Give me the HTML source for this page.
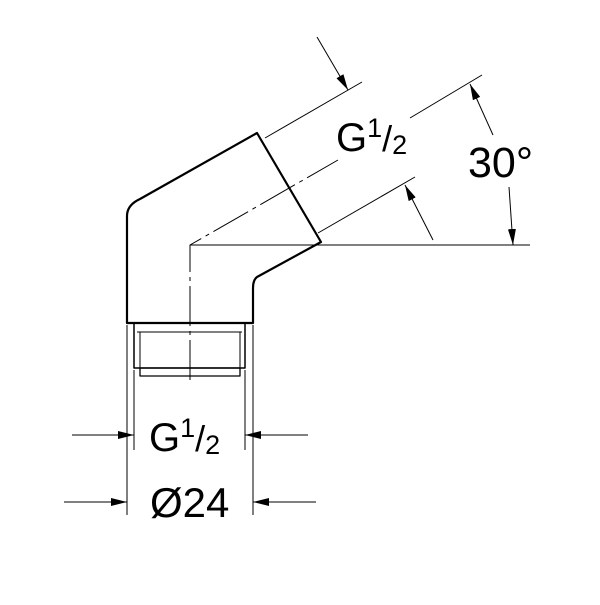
<!DOCTYPE html>
<html><head><style>html,body{margin:0;padding:0;background:#fff}</style></head><body>
<svg width="600" height="600" viewBox="0 0 600 600" xmlns="http://www.w3.org/2000/svg">
<defs>
<marker id="a" markerWidth="16" markerHeight="8" refX="16" refY="4" orient="auto" markerUnits="userSpaceOnUse" viewBox="0 0 16 8"><path d="M0,0 L16,4 L0,8 z" fill="#000"/></marker>
</defs>
<g fill="none" stroke="#000" stroke-linejoin="round">
<path d="M127,323 L127,216 Q127,205 140,199 L257,133 L321,242 L257,277 Q253,280 253,288 L253,323 Z" stroke-width="2.2"/>
<rect x="134" y="323" width="111" height="45" stroke-width="1.5"/>
<line x1="137" y1="332" x2="242" y2="332" stroke-width="1"/>
<line x1="140" y1="332" x2="140" y2="368" stroke-width="1"/>
<line x1="240" y1="332" x2="240" y2="368" stroke-width="1"/>
<rect x="140" y="368" width="100" height="8" stroke-width="1.3"/>
<path d="M190,380 L190,245 L338,160" stroke-width="1" stroke-dasharray="40,5,4,5"/>
<line x1="190" y1="245" x2="530" y2="245" stroke-width="1"/>
<line x1="127" y1="325" x2="127" y2="515" stroke-width="1"/>
<line x1="253" y1="325" x2="253" y2="515" stroke-width="1"/>
<line x1="134" y1="370" x2="134" y2="450" stroke-width="1"/>
<line x1="245" y1="370" x2="245" y2="450" stroke-width="1"/>
<line x1="72" y1="435" x2="134" y2="435" stroke-width="1" marker-end="url(#a)"/>
<line x1="308" y1="435" x2="245" y2="435" stroke-width="1" marker-end="url(#a)"/>
<line x1="64" y1="502" x2="127" y2="502" stroke-width="1" marker-end="url(#a)"/>
<line x1="316" y1="502" x2="253" y2="502" stroke-width="1" marker-end="url(#a)"/>
<line x1="265" y1="138" x2="362" y2="82" stroke-width="1"/>
<line x1="318" y1="233" x2="415" y2="177" stroke-width="1"/>
<line x1="410" y1="118" x2="482" y2="75" stroke-width="1"/>
<line x1="317" y1="37" x2="348" y2="90" stroke-width="1" marker-end="url(#a)"/>
<line x1="433" y1="240" x2="405" y2="185" stroke-width="1" marker-end="url(#a)"/>
<line x1="493" y1="135" x2="470" y2="84" stroke-width="1" marker-end="url(#a)"/>
<line x1="509" y1="187" x2="513" y2="245" stroke-width="1" marker-end="url(#a)"/>
</g>
<g font-family="Liberation Sans, sans-serif" fill="#000">
<text x="336" y="151" font-size="40">G<tspan font-size="27" dy="-14">1</tspan><tspan dy="14" font-size="36">/</tspan><tspan font-size="27" dy="3">2</tspan></text>
<text x="468" y="177" font-size="43">30°</text>
<text x="149" y="451" font-size="40">G<tspan font-size="27" dy="-14">1</tspan><tspan dy="14" font-size="36">/</tspan><tspan font-size="27" dy="3">2</tspan></text>
<text x="150" y="517" font-size="42">Ø24</text>
</g>
</svg>
</body></html>
